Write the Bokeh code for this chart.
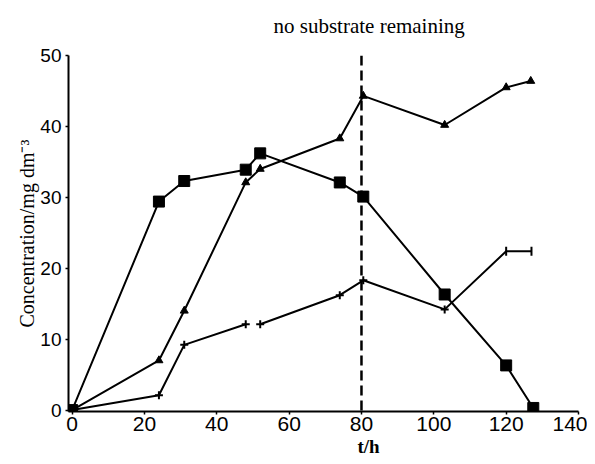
from bokeh.plotting import figure
from bokeh.models import Span, Title, Range1d, FixedTicker
from bokeh.embed import file_html
from bokeh.resources import INLINE
import math

# ---- data ----
x_ticks = [0, 20, 40, 60, 80, 100, 120, 140]
y_ticks = [0, 10, 20, 30, 40, 50]

square_t = [0, 24, 31, 48, 52, 74, 80.5, 103, 120, 127.5]
square_c = [0, 29.4, 32.3, 33.9, 36.2, 32.1, 30.1, 16.3, 6.3, 0.3]

triangle_t = [0, 24, 31, 48, 52, 74, 80.5, 103, 120, 126.8]
triangle_c = [0, 7.0, 14.0, 32.1, 34.0, 38.3, 44.3, 40.2, 45.5, 46.4]

cross_t = [0, 24, 31, 48, 52, 74, 80.5, 103, 120, 127]
cross_c = [0, 2.1, 9.2, 12.1, 12.1, 16.2, 18.3, 14.2, 22.4, 22.4]

substrate_exhausted_t = 80

title_text = "no substrate remaining"
x_label = "t/h"
y_label = "Concentration/mg dm\u207b\u00b3"

SERIF = "Liberation Serif"
SANS = "Liberation Sans"

p = figure(width=587, height=456, output_backend="svg", toolbar_location=None,
           x_range=Range1d(-1, 140), y_range=Range1d(-0.2, 50),
           min_border_left=68, min_border_right=9, min_border_top=55,
           min_border_bottom=44)
p.outline_line_color = None
p.grid.visible = False
p.background_fill_color = "white"
p.border_fill_color = "white"

# title at the top (a trailing line break lifts it above the frame)
t = Title(text=title_text + "\n", align="left", offset=205, standoff=0,
          vertical_align="bottom", text_line_height=0.75,
          text_font=SERIF, text_font_size="21px", text_font_style="normal",
          text_color="black")
p.add_layout(t, "above")

# x label as a below title (positioned to the right as in the reference)
xl = Title(text=x_label, align="left", offset=289, standoff=0,
           text_font=SERIF, text_font_size="19px", text_font_style="bold",
           text_color="black")
p.add_layout(xl, "below")

# y label as a left title (shifted upward as in the reference)
yl = Title(text=y_label, align="center", offset=15, standoff=0,
           text_font=SERIF, text_font_size="20px", text_font_style="normal",
           text_color="black")
p.add_layout(yl, "left")

for ax in (p.xaxis[0], p.yaxis[0]):
    ax.axis_line_color = "black"
    ax.axis_line_width = 2
    ax.major_tick_line_color = "black"
    ax.major_tick_line_width = 1.5
    ax.major_tick_in = 0
    ax.major_tick_out = 3
    ax.minor_tick_line_color = None
    ax.major_label_text_font = SANS
    ax.major_label_text_color = "black"

p.xaxis.ticker = FixedTicker(ticks=x_ticks)
p.yaxis.ticker = FixedTicker(ticks=y_ticks)
p.xaxis.major_label_text_font_size = "21px"
p.yaxis.major_label_text_font_size = "19px"
p.xaxis.major_label_standoff = 2
p.yaxis.major_label_standoff = 4

# dashed line where the substrate runs out
p.add_layout(Span(location=substrate_exhausted_t, dimension="height",
                  line_color="black", line_width=2.5, line_dash="10 5"))

# squares series
p.line(square_t, square_c, line_color="black", line_width=2)
p.scatter(square_t, square_c, marker="square", size=11, fill_color="black",
          line_color="black")

# triangles series
p.line(triangle_t, triangle_c, line_color="black", line_width=2)
p.scatter(triangle_t, triangle_c, marker="triangle", size=8, fill_color="black",
          line_color="black")

# crosses series (line broken between the 4th and 5th points)
p.line(cross_t[:4], cross_c[:4], line_color="black", line_width=2)
p.line(cross_t[4:], cross_c[4:], line_color="black", line_width=2)
p.scatter(cross_t[1:8], cross_c[1:8], marker="cross", size=8, line_color="black",
          line_width=2)
p.scatter(cross_t[8:], cross_c[8:], marker="dash", size=9, angle=math.pi / 2,
          line_color="black", line_width=2)

open("out.html", "w").write(file_html(p, INLINE))
